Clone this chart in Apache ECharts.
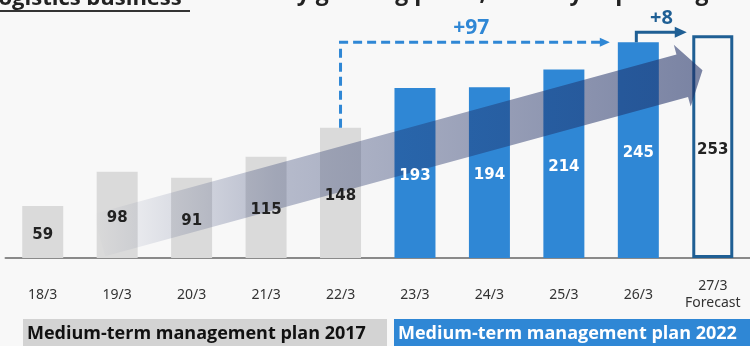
<!DOCTYPE html>
<html><head><meta charset="utf-8">
<script src="https://cdn.jsdelivr.net/npm/echarts@6/dist/echarts.min.js"></script>
<style>html,body{margin:0;padding:0;background:#f8f8f8}#c{width:750px;height:346px}</style>
</head><body><div id="c"></div>
<script>
// ---- data ----
const categories = ['18/3','19/3','20/3','21/3','22/3','23/3','24/3','25/3','26/3','27/3\nForecast'];
const profit = [59, 98, 91, 115, 148, 193, 194, 214, 245, 253];
const planGroup = ['2017','2017','2017','2017','2017','2022','2022','2022','2022','forecast'];
const planLabels = ['Medium-term management plan 2017', 'Medium-term management plan 2022'];
const growthLabels = ['+97', '+8'];
const titleLeft = 'Logistics business';
const titleRight = 'Steadily growing profit, steadily expanding scale';

// ---- styles ----
const GRAY = '#dadada', BLUE = '#2f87d5', DARK = '#1f5f94', BG = '#f8f8f8';
const chart = echarts.init(document.getElementById('c'), null, {renderer: 'canvas'});
const barStyle = g => g === 'forecast'
  ? {color: 'rgba(0,0,0,0)', borderColor: DARK, borderWidth: 3}
  : {color: g === '2017' ? GRAY : BLUE};

chart.setOption({
  backgroundColor: BG,
  animation: false,
  grid: {left: 5.5, top: 0, width: 750, height: 258},
  xAxis: {
    type: 'category', data: categories,
    axisTick: {show: false},
    axisLine: {lineStyle: {color: '#8a8a8a', width: 2}},
    axisLabel: {color: '#333', fontSize: 14, fontFamily: 'Noto Sans', margin: 37,
      verticalAlign: 'middle', lineHeight: 17, interval: 0}
  },
  yAxis: {type: 'value', min: 0, max: 293, show: false},
  series: [
    {type: 'bar', barWidth: 41, z: 2,
      data: profit.map((v, i) => ({value: v, itemStyle: barStyle(planGroup[i])}))},
    {type: 'bar', barWidth: 41, barGap: '-100%', z: 6, silent: true,
      itemStyle: {color: 'rgba(0,0,0,0)'},
      label: {show: true, position: 'inside', offset: [0, 3], fontFamily: 'DejaVu Sans', fontWeight: 'bold', fontSize: 15},
      data: profit.map((v, i) => ({value: v,
        label: {color: planGroup[i] === '2022' ? '#ffffff' : '#222222'}}))}
  ]
});

// pixel helper with fractional category index
const P = (i, v) => {
  const a = chart.convertToPixel({gridIndex: 0}, [0, v]);
  const b = chart.convertToPixel({gridIndex: 0}, [1, v]);
  return [a[0] + (b[0] - a[0]) * i, a[1]];
};
const barHalf = 20.5;

// growth arrow (data-space anchors)
const arrowFrom = P(0.76, 26), arrowTo = P(8.59, 207);
const dx = arrowTo[0] - arrowFrom[0], dy = arrowTo[1] - arrowFrom[1];
const L = Math.hypot(dx, dy); const d = [dx / L, dy / L]; const n = [d[1], -d[0]];
const w = 22, hw = 32, hl = 21;
const off = (p, v, k) => [p[0] + v[0] * k, p[1] + v[1] * k];
const arrowPts = [off(arrowFrom, n, w), off(arrowTo, n, w), off(arrowTo, n, hw), off(arrowTo, d, hl),
  off(arrowTo, n, -hw), off(arrowTo, n, -w), off(arrowFrom, n, -w)];

// dashed +97 connector
const p22 = P(4, profit[4]);
const p26 = P(8, profit[8]);
const pF = P(9, profit[9]);
const yTop = p26[1];
const xEnd = p26[0] - barHalf - 8;
// +8 connector
const s8x = p26[0] - 2, s8y = p26[1] - 10, e8x = pF[0] - 26;

chart.setOption({
  graphic: [
    {type: 'polygon', z: 4, shape: {points: arrowPts}, style: {fill: {type: 'linear', x: 0, y: 0, x2: 1, y2: 0,
      colorStops: [{offset: 0, color: 'rgba(30,46,101,0)'}, {offset: 0.3, color: 'rgba(30,46,101,0.3)'},
                   {offset: 1, color: 'rgba(30,46,101,0.58)'}]}}},
    {type: 'polyline', z: 5, shape: {points: [[p22[0], p22[1]], [p22[0], yTop], [xEnd - 6, yTop]]},
      style: {stroke: BLUE, lineWidth: 3, lineDash: [9, 5], fill: null}},
    {type: 'polygon', z: 5, shape: {points: [[xEnd, yTop], [xEnd - 10, yTop - 4.5], [xEnd - 10, yTop + 4.5]]},
      style: {fill: BLUE}},
    {type: 'text', z: 5, x: (p22[0] + xEnd) / 2 - 4, y: yTop - 14,
      style: {text: growthLabels[0], fill: BLUE, font: 'bold 21px "Open Sans"', align: 'center', verticalAlign: 'middle'}},
    {type: 'polyline', z: 5, shape: {points: [[s8x, p26[1]], [s8x, s8y], [e8x - 10, s8y]]},
      style: {stroke: DARK, lineWidth: 3, fill: null}},
    {type: 'polygon', z: 5, shape: {points: [[e8x, s8y], [e8x - 12, s8y - 5.5], [e8x - 12, s8y + 5.5]]},
      style: {fill: DARK}},
    {type: 'text', z: 5, x: (s8x + e8x) / 2, y: s8y - 14,
      style: {text: growthLabels[1], fill: DARK, font: 'bold 20px "Open Sans"', align: 'center', verticalAlign: 'middle'}},
    // header (cut off at top)
    {type: 'text', z: 5, x: -14, y: 10,
      style: {text: titleLeft, fill: '#222', font: 'bold 22px "Open Sans"', lineHeight: 22, align: 'left', verticalAlign: 'bottom'}},
    {type: 'rect', z: 5, shape: {x: 0, y: 10, width: 190, height: 2}, style: {fill: '#333'}},
    {type: 'text', z: 5, x: 218, y: 5,
      style: {text: titleRight, fill: '#222', font: 'bold 23px "Open Sans"', lineHeight: 23, align: 'left', verticalAlign: 'bottom'}},
    // plan bands
    {type: 'rect', z: 5, shape: {x: 23, y: 319, width: 364, height: 30}, style: {fill: '#d3d3d3'}},
    {type: 'text', z: 6, x: 27, y: 334,
      style: {text: planLabels[0], fill: '#111', font: 'bold 18px "Open Sans"', align: 'left', verticalAlign: 'middle'}},
    {type: 'rect', z: 5, shape: {x: 394, y: 319, width: 360, height: 30}, style: {fill: BLUE}},
    {type: 'text', z: 6, x: 398, y: 334,
      style: {text: planLabels[1], fill: '#ffffff', font: 'bold 18px "Open Sans"', align: 'left', verticalAlign: 'middle'}}
  ]
});
</script>
</body></html>
